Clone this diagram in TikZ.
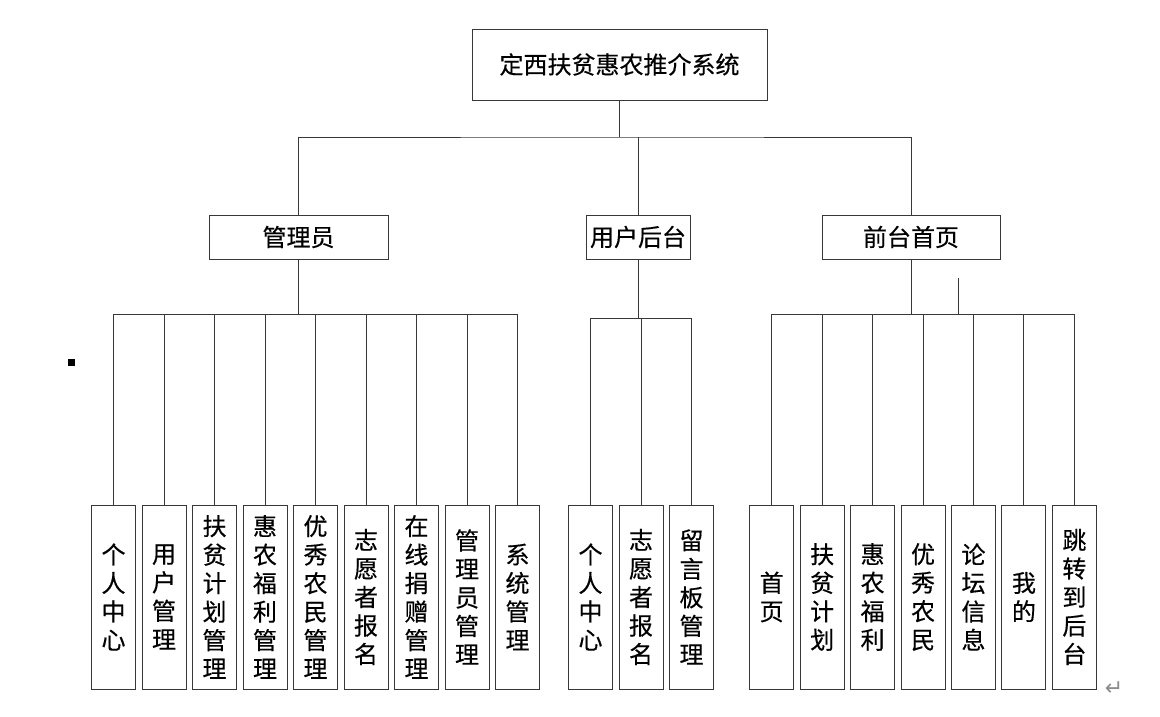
\documentclass[tikz,border=0pt]{standalone}
\usepackage{fontspec}
\setmainfont{Noto Sans CJK SC}[FakeBold=0.4]
\newfontfamily\symfont{DejaVu Sans}
\begin{document}
\begin{tikzpicture}[x=1pt,y=-1pt,
  box/.style={draw=black!78, line width=1pt, inner sep=0pt, fill=white,
              font=\fontsize{24}{28.5}\selectfont},
  leaf/.style={box, minimum width=44pt, minimum height=184pt, align=center, text width=44pt},
  link/.style={draw=black!78, line width=1pt}]
\useasboundingbox (0,0) rectangle (1160,716);

\node[box, minimum width=295pt, minimum height=71pt] (root) at (619.5,64.5) {定西扶贫惠农推介系统};
\node[box, minimum width=179pt, minimum height=44pt] (adm) at (298.5,237) {管理员};
\node[box, minimum width=104pt, minimum height=44pt] (usr) at (638,237) {用户后台};
\node[box, minimum width=178pt, minimum height=44pt] (frt) at (911,237) {前台首页};

\draw[link] (root.south) -- ++(0,36.5) coordinate (tb);
\draw[link] (adm.north) |- (tb) -| (frt.north);
\draw[link] (usr.north) -- (usr.north |- tb);

\foreach \t [count=\i from 0] in {{个\\人\\中\\心},{用\\户\\管\\理},{扶\\贫\\计\\划\\管\\理},{惠\\农\\福\\利\\管\\理},{优\\秀\\农\\民\\管\\理},{志\\愿\\者\\报\\名},{在\\线\\捐\\赠\\管\\理},{管\\理\\员\\管\\理},{系\\统\\管\\理}} {
  \node[leaf] (a\i) at (113.5+50.5*\i,597) {\t};
  \draw[link] (adm.south) -- ++(0,55) -| (a\i.north);
}

\foreach \t [count=\i from 0] in {{个\\人\\中\\心},{志\\愿\\者\\报\\名},{留\\言\\板\\管\\理}} {
  \node[leaf] (b\i) at (590.5+50.5*\i,597) {\t};
  \draw[link] (usr.south) -- ++(0,59) -| (b\i.north);
}

\foreach \t [count=\i from 0] in {{首\\页},{扶\\贫\\计\\划},{惠\\农\\福\\利},{优\\秀\\农\\民},{论\\坛\\信\\息},{我\\的},{跳\\转\\到\\后\\台}} {
  \node[leaf] (c\i) at (771.7+50.45*\i,597) {\t};
  \draw[link] (frt.south) -- ++(0,55) -| (c\i.north);
}

\coordinate (stub) at (958,278);
\draw[link] (stub) -- ++(0,36);

\fill (68,359) rectangle (75,366);
\node[text=black!45, font=\symfont\fontsize{22}{22}\selectfont, inner sep=0pt] (ret) at (1114,689) {↵};
\end{tikzpicture}
\end{document}
